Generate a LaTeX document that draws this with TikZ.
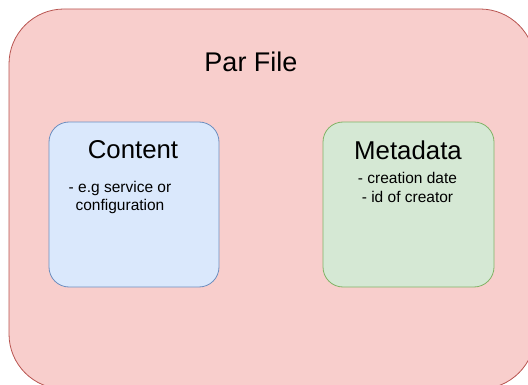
\documentclass[tikz,border=0pt]{standalone}
\usepackage{fontspec}
\setmainfont{Liberation Sans}
\definecolor{redfill}{HTML}{F8CECC}
\definecolor{redline}{HTML}{B85450}
\definecolor{bluefill}{HTML}{DAE8FC}
\definecolor{blueline}{HTML}{6C8EBF}
\definecolor{greenfill}{HTML}{D5E8D4}
\definecolor{greenline}{HTML}{82B366}
\tikzset{
  container/.style={draw=redline, fill=redfill, line width=0.8pt, rounded corners=55pt},
  part/.style={line width=0.8pt, rounded corners=20pt},
  title/.style={font=\fontsize{27}{32}\selectfont, inner sep=0pt},
  heading/.style={font=\fontsize{25.8}{30}\selectfont, inner sep=0pt},
  detail/.style={font=\fontsize{15.5}{19}\selectfont, inner sep=0pt, anchor=base}
}
\begin{document}
\begin{tikzpicture}[x=1pt, y=-1pt]
  \useasboundingbox (0,0) rectangle (528,385);
  % outer file container, extending past the page edges
  \draw[container] (9,9) rectangle (535,389);
  \node[title] (par) at (251,62) {Par File};

  % content part
  \draw[part, draw=blueline, fill=bluefill] (49,122) rectangle (219,287);
  \node[heading] (content) at (133,150) {Content};
  \node[detail] (c1) at (120,193) {- e.g service or};
  \node[detail] (c2) at (120,211) {configuration};

  % metadata part
  \draw[part, draw=greenline, fill=greenfill] (323,122) rectangle (494,287);
  \node[heading] (meta) at (408,150) {Metadata};
  \node[detail] (m1) at (407.5,184) {- creation date};
  \node[detail] (m2) at (407.5,203) {- id of creator};
\end{tikzpicture}
\end{document}
